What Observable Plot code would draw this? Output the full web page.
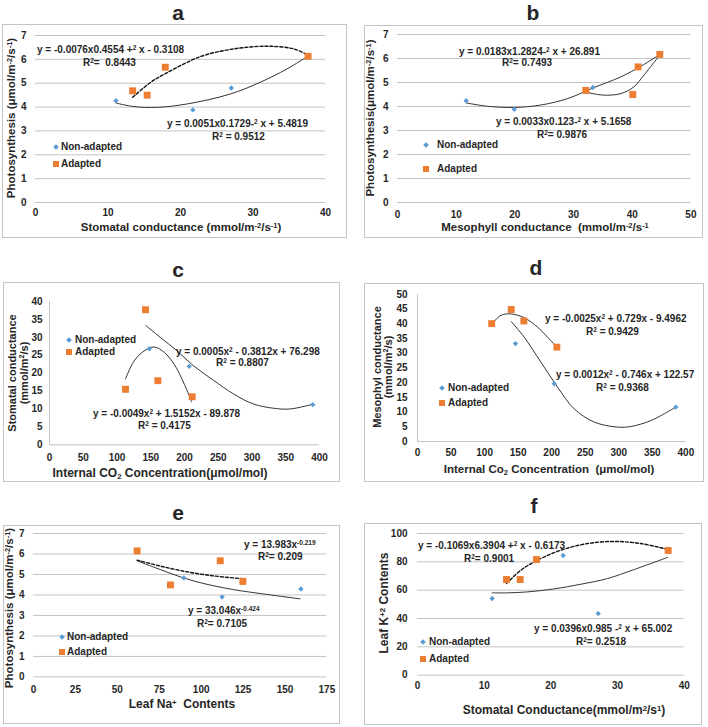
<!DOCTYPE html>
<html><head><meta charset="utf-8">
<script src="https://cdn.jsdelivr.net/npm/d3@7"></script>
<script src="https://cdn.jsdelivr.net/npm/@observablehq/plot@0.6"></script>
<style>
body{margin:0;background:#fff;font-family:"Liberation Sans",Arial,sans-serif;}
#root{position:relative;width:708px;height:727px;overflow:hidden;background:#fff;}
.box{position:absolute;border:1px solid #c4c4c4;box-sizing:border-box;}
.t{position:absolute;white-space:nowrap;font-weight:bold;color:#262626;line-height:1;}
.t sup{font-size:0.65em;vertical-align:0.45em;line-height:0;}
.t sub{font-size:0.65em;vertical-align:-0.25em;line-height:0;}
.plot{position:absolute;}
.mk{position:absolute;}
</style></head><body><div id="root"></div><script>
// ---------- DATA ----------
const NON_COLOR = "#5B9BD5", AD_COLOR = "#ED7D31";
const seriesNames = ["Non-adapted", "Adapted"];
const panelTitles = ["a", "b", "c", "d", "e", "f"];

// a: Stomatal conductance vs Photosynthesis
const aNonX = [11.1, 21.7, 27.0], aNonY = [4.27, 3.88, 4.80];
const aAdX = [13.4, 15.4, 17.9, 37.6], aAdY = [4.68, 4.50, 5.67, 6.13];
const aNonTrendX = [11.1, 13.6, 16.8, 20.9, 26.9, 31.0, 34.7, 37.5];
const aNonTrendY = [4.17, 4.02, 3.99, 4.13, 4.55, 5.04, 5.60, 6.12];
const aAdTrendX = [13.4, 15.9, 17.9, 22.8, 27.4, 32.0, 35.6, 37.5];
const aAdTrendY = [4.41, 5.04, 5.40, 6.12, 6.44, 6.55, 6.44, 6.19];
const aXTicks = [0, 10, 20, 30, 40], aYTicks = [0, 1, 2, 3, 4, 5, 6, 7];

// b: Mesophyll conductance vs Photosynthesis
const bNonX = [11.7, 19.9, 33.3], bNonY = [4.24, 3.88, 4.79];
const bAdX = [32.1, 40.1, 41.0, 44.7], bAdY = [4.67, 4.50, 5.65, 6.17];
const bNonTrendX = [11.7, 15.3, 19.9, 24.4, 29.0, 33.5, 38.1, 41.5, 44.7];
const bNonTrendY = [4.15, 4.01, 3.96, 4.06, 4.33, 4.79, 5.24, 5.68, 6.17];
const bAdTrendX = [32.1, 34.1, 35.8, 38.1, 40.3, 42.0, 44.7];
const bAdTrendY = [4.60, 4.50, 4.47, 4.54, 4.82, 5.31, 6.14];
const bXTicks = [0, 10, 20, 30, 40, 50], bYTicks = [0, 1, 2, 3, 4, 5, 6, 7];

// c: Internal CO2 vs Stomatal conductance
const cNonX = [148, 207, 390], cNonY = [26.8, 21.9, 11.2];
const cAdX = [112.6, 142.2, 160.5, 211.4], cAdY = [15.5, 37.7, 17.9, 13.4];
const cLongTrendX = [142.7, 164, 188.6, 213, 243, 272.6, 302, 332, 356.5, 389.6];
const cLongTrendY = [33.3, 30.0, 26.3, 22.1, 18.0, 14.2, 11.4, 10.2, 10.0, 11.3];
const cHumpTrendX = [112.6, 125, 140, 155, 170, 185, 200, 210.5];
const cHumpTrendY = [18.4, 23.3, 26.2, 27.3, 25.8, 22.4, 16.8, 12.0];
const cXTicks = [0, 50, 100, 150, 200, 250, 300, 350, 400], cYTicks = [0, 5, 10, 15, 20, 25, 30, 35, 40];

// d: Internal CO2 vs Mesophyl conductance
const dNonX = [146, 203.8, 385], dNonY = [33.3, 19.6, 11.7];
const dAdX = [110.6, 139.7, 158.5, 207.7], dAdY = [40.1, 44.9, 41.0, 32.1];
const dAdTrendX = [110.6, 124.5, 139, 159, 178.9, 193.8, 207.7];
const dAdTrendY = [40.0, 42.9, 43.4, 42.1, 38.9, 35.5, 32.1];
const dNonTrendX = [139.7, 159, 183.9, 208.7, 233.5, 263.4, 298, 318, 347.8, 385];
const dNonTrendY = [40.8, 35.5, 27.0, 18.5, 11.1, 6.6, 4.9, 5.1, 7.1, 11.7];
const dXTicks = [0, 50, 100, 150, 200, 250, 300, 350, 400], dYTicks = [0, 5, 10, 15, 20, 25, 30, 35, 40, 45, 50];

// e: Leaf Na+ vs Photosynthesis
const eNonX = [89.7, 112.5, 159.5], eNonY = [4.83, 3.90, 4.29];
const eAdX = [61.8, 81.7, 111.4, 124.9], eAdY = [6.15, 4.49, 5.67, 4.66];
const eNonTrendX = [61.8, 75.6, 89.5, 103.4, 119.3, 135.2, 159.1];
const eNonTrendY = [5.67, 5.24, 4.83, 4.52, 4.26, 4.07, 3.81];
const eAdTrendX = [61.8, 75.6, 91.5, 107.5, 124.9];
const eAdTrendY = [5.70, 5.41, 5.13, 4.93, 4.79];
const eXTicks = [0, 25, 50, 75, 100, 125, 150, 175], eYTicks = [0, 1, 2, 3, 4, 5, 6, 7];

// f: Stomatal conductance vs Leaf K+ contents
const fNonX = [11.2, 21.85, 27.1], fNonY = [54.1, 84.5, 43.5];
const fAdX = [13.35, 15.4, 17.85, 37.6], fAdY = [67.5, 67.5, 81.6, 88.0];
const fNonTrendX = [11.2, 13.5, 16.5, 20.5, 24.5, 28.5, 32.5, 37.5];
const fNonTrendY = [58.1, 58.1, 58.8, 60.9, 64.2, 68.2, 74.6, 83.1];
const fAdTrendX = [13.35, 15.5, 18, 21.5, 25.5, 29.5, 33.5, 37.6];
const fAdTrendY = [64.7, 74.1, 81.2, 88.2, 92.9, 94.4, 92.9, 88.7];
const fXTicks = [0, 10, 20, 30, 40], fYTicks = [0, 20, 40, 60, 80, 100];

// ---------- LAYOUT ----------
const root = document.getElementById("root");
function box(l, t, r, b) {
  const d = document.createElement("div"); d.className = "box";
  Object.assign(d.style, {left: l + "px", top: t + "px", width: (r - l) + "px", height: (b - t) + "px"});
  root.appendChild(d);
}
function text(html, x, y, size, opt = {}) {
  const d = document.createElement("div"); d.className = "t"; d.innerHTML = html;
  const anchor = opt.anchor || "middle";
  let tf = anchor === "start" ? "translate(0,-50%)" : "translate(-50%,-50%)";
  if (opt.rotate) tf += " rotate(-90deg)";
  Object.assign(d.style, {left: x + "px", top: y + "px", fontSize: size + "px", transform: tf});
  if (opt.weight) d.style.fontWeight = opt.weight;
  if (opt.color) d.style.color = opt.color;
  root.appendChild(d);
}
function legend(cx, y1, y2, tx) {
  const dm = document.createElement("div"); dm.className = "mk";
  Object.assign(dm.style, {left: (cx - 2) + "px", top: (y1 - 2) + "px", width: "4px", height: "4px", background: NON_COLOR, transform: "rotate(45deg)"});
  root.appendChild(dm);
  const sq = document.createElement("div"); sq.className = "mk";
  Object.assign(sq.style, {left: (cx - 3) + "px", top: (y2 - 3) + "px", width: "6px", height: "6px", background: AD_COLOR});
  root.appendChild(sq);
  text(seriesNames[0], tx, y1, 10, {anchor: "start"});
  text(seriesNames[1], tx, y2, 10, {anchor: "start"});
}
function panel(c) {
  const mL = 40, mR = 14, mT = 10, mB = 28;
  const w = c.pr - c.pl + mL + mR, h = c.pb - c.pt + mT + mB;
  const marks = [];
  if (c.grid) marks.push(Plot.ruleY(c.yTicks, {stroke: "#c3c3c3", strokeWidth: 1}));
  else marks.push(Plot.ruleY([c.yTicks[0]], {stroke: "#c3c3c3"}));
  if (c.axisLine) marks.push(Plot.ruleX([c.xTicks[0]], {stroke: "#c3c3c3"}));
  for (const t of c.trends) {
    marks.push(Plot.line(t.x, {x: t.x, y: t.y, curve: "catmull-rom", stroke: t.dash ? "#111" : "#333",
      strokeWidth: t.dash ? 1.4 : 1, strokeDasharray: t.dash ? "3,2" : null}));
  }
  marks.push(Plot.dot(c.nonX, {x: c.nonX, y: c.nonY, symbol: "diamond2", r: 2.4, fill: NON_COLOR, stroke: "none"}));
  marks.push(Plot.dot(c.adX, {x: c.adX, y: c.adY, symbol: "square", r: 3.9, fill: AD_COLOR, stroke: "none"}));
  const svg = Plot.plot({
    width: w, height: h, marginLeft: mL, marginRight: mR, marginTop: mT, marginBottom: mB,
    style: {fontFamily: "Liberation Sans, Arial, sans-serif", fontSize: "10px", fontWeight: "bold", color: "#262626", background: "transparent", overflow: "visible"},
    x: {domain: [c.xTicks[0], c.xTicks[c.xTicks.length - 1]], ticks: c.xTicks, tickFormat: d => String(d), tickSize: 0, tickPadding: c.xPad, label: null},
    y: {domain: [c.yTicks[0], c.yTicks[c.yTicks.length - 1]], ticks: c.yTicks, tickFormat: d => String(d), tickSize: 0, tickPadding: c.yPad, label: null},
    marks
  });
  svg.classList.add("plot");
  svg.style.left = (c.pl - mL) + "px"; svg.style.top = (c.pt - mT) + "px";
  svg.style.position = "absolute";
  root.appendChild(svg);
}

// boxes
box(2, 24, 347, 238); box(364, 25, 703, 238);
box(3, 282, 340, 482); box(364, 283, 704, 482);
box(3, 525, 340, 724); box(364, 523, 702, 725);

// titles
const titlePos = [[178, 12], [533, 12], [178, 269], [536, 267], [178, 512], [534, 505]];
panelTitles.forEach((t, i) => text(t, titlePos[i][0], titlePos[i][1], 21));

// panel a
panel({pl: 35, pr: 325, pt: 35, pb: 202, xTicks: aXTicks, yTicks: aYTicks, grid: true, xPad: 6, yPad: 9,
  nonX: aNonX, nonY: aNonY, adX: aAdX, adY: aAdY,
  trends: [{x: aNonTrendX, y: aNonTrendY}, {x: aAdTrendX, y: aAdTrendY, dash: true}]});
// panel b
panel({pl: 397.3, pr: 690.7, pt: 34.3, pb: 202.3, xTicks: bXTicks, yTicks: bYTicks, grid: true, xPad: 8, yPad: 9,
  nonX: bNonX, nonY: bNonY, adX: bAdX, adY: bAdY,
  trends: [{x: bNonTrendX, y: bNonTrendY}, {x: bAdTrendX, y: bAdTrendY}]});
// panel c
panel({pl: 49.3, pr: 319.3, pt: 301, pb: 444.3, xTicks: cXTicks, yTicks: cYTicks, grid: false, axisLine: true, xPad: 9, yPad: 7,
  nonX: cNonX, nonY: cNonY, adX: cAdX, adY: cAdY,
  trends: [{x: cLongTrendX, y: cLongTrendY}, {x: cHumpTrendX, y: cHumpTrendY}]});
// panel d
panel({pl: 417.3, pr: 685.7, pt: 294, pb: 441, xTicks: dXTicks, yTicks: dYTicks, grid: false, axisLine: true, xPad: 7, yPad: 10,
  nonX: dNonX, nonY: dNonY, adX: dAdX, adY: dAdY,
  trends: [{x: dAdTrendX, y: dAdTrendY}, {x: dNonTrendX, y: dNonTrendY}]});
// panel e
panel({pl: 33.3, pr: 326.7, pt: 533.3, pb: 676.7, xTicks: eXTicks, yTicks: eYTicks, grid: true, xPad: 9, yPad: 9,
  nonX: eNonX, nonY: eNonY, adX: eAdX, adY: eAdY,
  trends: [{x: eNonTrendX, y: eNonTrendY}, {x: eAdTrendX, y: eAdTrendY, dash: true}]});
// panel f
panel({pl: 417.3, pr: 684, pt: 533.3, pb: 675, xTicks: fXTicks, yTicks: fYTicks, grid: true, xPad: 7, yPad: 10,
  nonX: fNonX, nonY: fNonY, adX: fAdX, adY: fAdY,
  trends: [{x: fNonTrendX, y: fNonTrendY}, {x: fAdTrendX, y: fAdTrendY, dash: true}]});

// axis labels
const AX = 11.5;
text("Stomatal conductance (mmol/m<sup>-2</sup>/s<sup>-1</sup>)", 181, 228, AX);
text("Photosynthesis (μmol/m<sup>-2</sup>/s<sup>-1</sup>)", 12, 118, AX, {rotate: true});
text("Mesophyll conductance &nbsp;(mmol/m<sup>-2</sup>/s<sup>-1</sup>", 545, 228, AX);
text("Photosynthesis(μmol/m<sup>-2</sup>/s<sup>-1</sup>)", 371, 118, AX, {rotate: true});
text("Internal CO<sub>2</sub> Concentration(μmol/mol)", 160, 473, 12);
text("Stomatal conductance", 12, 373, 11, {rotate: true});
text("(mmol/m<sup>2</sup>/s)", 24, 373, 11, {rotate: true});
text("Internal Co<sub>2</sub> Concentration &nbsp;(μmol/mol)", 549, 470, 11.5);
text("Mesophyl conductance", 377, 367, 11, {rotate: true});
text("(mmol/m<sup>2</sup>/s)", 388, 367, 11, {rotate: true});
text("Leaf Na<sup>+</sup> &nbsp;Contents", 182, 704, 12);
text("Photosynthesis (μmol/m<sup>-2</sup>/s<sup>-1</sup>)", 10, 608, AX, {rotate: true});
text("Stomatal Conductance(mmol/m<sup>2</sup>/s<sup>1</sup>)", 564, 710, 12);
text("Leaf K<sup>+2</sup> Contents", 384, 603, 12, {rotate: true});

// equations
const EQ = 10, S = {anchor: "start"};
text("y = -0.0076x0.4554 +<sup>2</sup> x - 0.3108", 37, 50, EQ, S);
text("R<sup>2</sup>= &nbsp;0.8443", 83, 63, EQ, S);
text("y = 0.0051x0.1729-<sup>2</sup> x + 5.4819", 167, 124, EQ, S);
text("R<sup>2</sup> = 0.9512", 212, 137, EQ, S);
text("y = 0.0183x1.2824-<sup>2</sup> x + 26.891", 459, 52, EQ, S);
text("R<sup>2</sup>= 0.7493", 502, 63, EQ, S);
text("y = 0.0033x0.123-<sup>2</sup> x + 5.1658", 496, 122, EQ, S);
text("R<sup>2</sup>= 0.9876", 537, 135, EQ, S);
text("y = 0.0005x<sup>2</sup> - 0.3812x + 76.298", 176, 352, EQ, S);
text("R<sup>2</sup> = 0.8807", 216, 363, EQ, S);
text("y = -0.0049x<sup>2</sup> + 1.5152x - 89.878", 93, 414, EQ, S);
text("R<sup>2</sup> = 0.4175", 138, 426, EQ, S);
text("y = -0.0025x<sup>2</sup> + 0.729x - 9.4962", 545, 319, EQ, S);
text("R<sup>2</sup> = 0.9429", 586, 332, EQ, S);
text("y = 0.0012x<sup>2</sup> - 0.746x + 122.57", 556, 375, EQ, S);
text("R<sup>2</sup> = 0.9368", 596, 388, EQ, S);
text("y = 13.983x<sup>-0.219</sup>", 244, 545, EQ, S);
text("R<sup>2</sup>= 0.209", 258, 557, EQ, S);
text("y = 33.046x<sup>-0.424</sup>", 188, 611, EQ, S);
text("R<sup>2</sup>= 0.7105", 197, 624, EQ, S);
text("y = -0.1069x6.3904 +<sup>2</sup> x - 0.6173", 418, 546, EQ, S);
text("R<sup>2</sup>= 0.9001", 464, 559, EQ, S);
text("y = 0.0396x0.985 -<sup>2</sup> x + 65.002", 534, 629, EQ, S);
text("R<sup>2</sup>= 0.2518", 576, 642, EQ, S);

// legends
legend(56, 147, 164, 61);
legend(426, 145, 169, 437);
legend(69, 340, 352, 75);
legend(442, 388, 403, 448);
legend(62, 637, 652, 67);
legend(423, 642, 659, 429);
</script></body></html>
